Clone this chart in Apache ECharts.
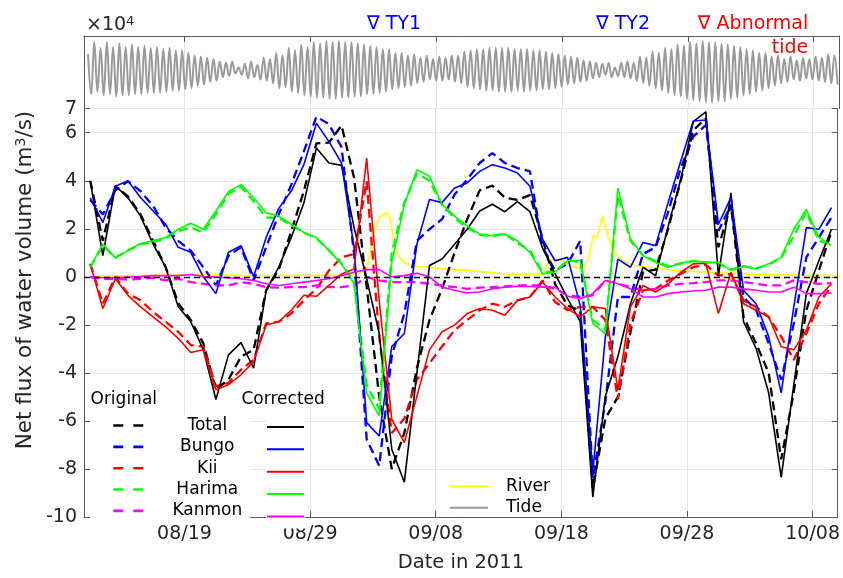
<!DOCTYPE html>
<html>
<head>
<meta charset="utf-8">
<script src="https://cdn.jsdelivr.net/npm/echarts@6/dist/echarts.min.js"></script>
<style>
  html, body { margin: 0; padding: 0; background: #fff; }
  #chart { width: 843px; height: 578px; }
</style>
</head>
<body>
<div id="chart"></div>
<script>
// Daily net volume flux through the straits, units of 1e4 m^3/s.
// Day 0 = 2011-08-11 00:00; one value per day, taken at noon.
const tickDays   = [8, 18, 28, 38, 48, 58];
const tickLabels = ['08/19', '08/29', '09/08', '09/18', '09/28', '10/08'];

const totalOriginal = [4.0, 1.5, 3.77, 3.35, 2.6, 1.5, 0.4, -1.1, -1.8, -2.77, -4.7, -4.28, -3.32, -3.04, -0.56,
  0.3, 1.9, 3.57, 5.56, 5.59, 6.3, 4.12, -0.4, -5.0, -8.0, -6.5, -3.8, -1.8, -0.5, 1.0,
  2.4, 3.6, 3.8, 3.3, 3.2, 3.4, 1.6, -0.3, -1.2, -1.4, -8.8, -5.9, -5.0, -2.3, 0.2,
  0.3, 2.0, 4.0, 6.1, 6.6, 1.23, 3.0, -1.67, -2.77, -4.0, -7.6, -4.8, -1.39, 0.26, 1.9];
const bungoOriginal = [3.2, 2.6, 3.6, 3.98, 3.57, 2.95, 2.05, 1.5, 1.09, 0.4, -0.36, 0.88, 1.23, -0.15, 1.23,
  2.6, 3.84, 5.22, 6.67, 6.35, 5.4, 0.95, -6.76, -7.87, -3.3, -1.53, 1.5, 1.98, 2.4, 3.43,
  4.05, 4.74, 5.15, 4.74, 4.53, 4.39, 1.23, 0.26, 0.54, 1.5, -8.4, -5.2, -0.84, -0.84, 0.95,
  1.23, 2.7, 4.53, 5.84, 6.32, 1.91, 3.0, -0.84, -1.39, -2.77, -4.29, -1.94, 0.81, 1.64, 2.47];
const kiiOriginal = [0.54, -1.12, 0.0, -0.7, -0.98, -1.46, -1.87, -2.29, -2.84, -2.91, -4.56, -4.42, -3.87, -3.46, -1.94,
  -1.87, -1.53, -0.98, -0.5, 0.26, 0.81, 0.95, 3.98, -2.5, -6.5, -5.9, -4.28, -3.6, -2.9, -2.22,
  -1.8, -1.39, -1.12, -1.25, -0.98, -0.84, -0.15, -1.05, -1.39, -1.25, -1.25, -1.8, -5.1, -1.94, -0.56,
  -0.5, -0.15, 0.12, 0.4, 0.5, 0.05, 0.12, -0.98, -1.25, -1.67, -2.49, -3.46, -2.36, -1.12, -0.36];
const harimaOriginal = [0.4, 1.3, 0.8, 1.1, 1.35, 1.45, 1.6, 1.9, 2.05, 1.85, 2.6, 3.45, 3.75, 3.15, 2.47,
  2.45, 2.15, 1.85, 1.6, 1.1, 0.55, -0.2, -4.5, -5.5, 1.0, 3.1, 4.3, 4.0, 3.0, 2.45,
  2.05, 1.75, 1.7, 1.8, 1.4, 1.1, 0.2, 0.2, 0.7, 0.6, -1.8, -2.2, 3.4, 1.5, 0.9,
  0.65, 0.45, 0.55, 0.65, 0.6, 0.55, 0.3, 0.45, 0.35, 0.5, 0.8, 1.7, 2.7, 1.5, 1.35];
const kanmonOriginal = [-0.01, -0.08, -0.08, -0.12, -0.08, -0.04, -0.15, -0.08, -0.22, -0.29, -0.36, -0.36, -0.22, -0.29, -0.43,
  -0.45, -0.43, -0.43, -0.36, -0.43, -0.43, -0.36, 0.0, -0.15, -0.22, -0.22, -0.22, -0.29, -0.36, -0.43,
  -0.5, -0.45, -0.43, -0.4, -0.36, -0.36, -0.36, -0.5, -0.77, -0.84, -0.77, -0.15, -0.29, -0.43, -0.56,
  -0.5, -0.36, -0.29, -0.26, -0.22, -0.15, -0.15, -0.22, -0.29, -0.36, -0.36, -0.15, -0.22, -0.29, -0.26];

const totalCorrected = [3.98, 0.88, 3.8, 3.29, 2.53, 1.36, 0.4, -1.25, -1.87, -3.04, -5.11, -3.25, -2.74, -3.8, -0.56,
  0.4, 1.64, 3.07, 5.36, 4.74, 4.64, 2.05, -0.08, -2.36, -7.18, -8.55, -4.0, 0.47, 0.74, 1.36,
  1.98, 2.74, 3.02, 2.71, 3.13, 2.71, 1.2, 0.12, -0.91, -1.87, -9.17, -4.97, -3.32, -1.12, 0.4,
  0.05, 2.1, 4.05, 6.46, 6.87, 0.05, 3.5, -1.87, -2.98, -4.83, -8.35, -4.5, -0.7, 0.67, 1.98];
const bungoCorrected = [3.29, 2.26, 3.77, 4.0, 3.3, 2.74, 2.19, 1.23, 1.02, 0.0, -0.7, 1.02, 1.3, 0.0, 1.64,
  2.85, 3.57, 4.67, 6.39, 5.63, 4.74, 1.2, -6.07, -6.63, -2.9, -2.36, 1.36, 3.22, 3.09, 3.7,
  3.91, 4.39, 4.67, 4.53, 4.32, 3.77, 1.57, 0.67, 0.81, -1.2, -8.14, -2.5, 0.74, 0.4, 1.43,
  1.3, 3.1, 4.81, 6.49, 6.53, 2.19, 3.3, -0.56, -1.12, -2.49, -4.83, -1.25, 2.05, 1.98, 2.88];
const kiiCorrected = [0.54, -1.32, -0.08, -0.77, -1.25, -1.67, -2.08, -2.56, -3.15, -3.04, -4.7, -4.49, -4.08, -3.53, -2.01,
  -1.87, -1.39, -0.77, -0.81, -0.36, 0.12, 0.33, 4.94, -1.0, -5.93, -6.9, -4.97, -3.04, -2.29, -2.01,
  -1.53, -1.32, -1.39, -1.6, -0.98, -0.84, -0.22, -0.84, -1.32, -1.67, -1.25, -1.32, -4.7, -1.25, -0.36,
  -0.63, -0.29, 0.19, 0.54, 0.57, -1.53, 0.19, -1.12, -1.39, -1.67, -2.91, -3.04, -2.22, -0.84, -0.29];
const harimaCorrected = [0.4, 1.36, 0.79, 1.09, 1.39, 1.5, 1.64, 1.98, 2.23, 1.98, 2.74, 3.54, 3.84, 3.29, 2.67,
  2.53, 2.19, 1.85, 1.64, 1.09, 0.54, -0.29, -4.83, -5.8, 0.6, 3.0, 4.46, 4.19, 3.02, 2.53,
  2.12, 1.78, 1.71, 1.78, 1.5, 1.02, 0.12, 0.19, 0.67, 0.67, -1.94, -2.36, 3.7, 1.57, 0.88,
  0.6, 0.4, 0.57, 0.67, 0.6, 0.6, 0.26, 0.44, 0.33, 0.54, 0.81, 1.98, 2.81, 1.64, 1.3];
const kanmonCorrected = [0.01, -0.04, -0.04, -0.01, 0.01, 0.05, 0.05, 0.05, 0.1, 0.01, -0.01, -0.04, -0.08, -0.15, -0.29,
  -0.36, -0.29, -0.22, -0.15, -0.08, 0.05, 0.19, 0.3, 0.3, 0.0, 0.05, 0.15, 0.0, -0.43, -0.56,
  -0.67, -0.63, -0.5, -0.43, -0.4, -0.4, -0.43, -0.43, -0.81, -0.91, -0.7, -0.15, -0.29, -0.5, -0.84,
  -0.84, -0.7, -0.63, -0.59, -0.56, -0.43, -0.43, -0.5, -0.56, -0.63, -0.63, -0.43, -0.7, -0.7, -0.67];

// River discharge, sampled more densely around the flood peaks.
const riverDays = [0.5, 2.5, 4.5, 6.5, 8.5, 9.5, 10.5, 12.5, 15.5, 19.5, 20.9, 21.9, 22.5, 23.1, 23.5, 24.06, 24.4, 24.7,
  25.1, 25.6, 26.5, 27.5, 28.5, 30.7, 32.3, 33.3, 36.0, 36.6, 37.0, 37.6, 38.4, 39.2, 39.7, 40.1, 40.54, 40.86,
  41.28, 41.6, 42.1, 42.9, 43.9, 45.5, 47.1, 49.7, 52.4, 55.0, 59.9];
const riverFlux = [0.03, 0.04, 0.05, 0.06, 0.1, 0.12, 0.08, 0.05, 0.05, 0.06, 0.06, 0.15, 0.33, 1.78, 2.47, 2.67, 2.4, 1.36,
  0.81, 0.56, 0.44, 0.4, 0.33, 0.26, 0.19, 0.12, 0.1, 0.12, 0.67, 0.74, 0.6, 0.4, 0.33, 0.67, 1.71, 1.64,
  2.53, 1.91, 1.09, 0.67, 0.47, 0.36, 0.26, 0.19, 0.12, 0.08, 0.05];

// Tidal flux extremes (high, low, high, low per day), 1e4 m^3/s about the mean.
const tideExtremes = [
  0.65, -1.0, 1.15, -0.9,   0.9, -1.05, 1.15, -1.0,   0.95, -1.1, 1.1, -1.05,   0.95, -1.05, 1.05, -1.0,
  0.95, -1.0, 1.0, -0.95,   0.9, -0.95, 0.95, -0.95,  0.85, -0.9, 0.9, -0.85,   0.8, -0.85, 0.8, -0.8,
  0.7, -0.75, 0.6, -0.65,   0.55, -0.6, 0.5, -0.5,    0.45, -0.45, 0.35, -0.3,  0.3, -0.25, 0.35, -0.15,
  0.1, -0.2, 0.25, -0.35,   0.35, -0.3, 0.2, -0.4,    0.5, -0.45, 0.45, -0.55,  0.7, -0.75, 0.6, -0.7,
  0.9, -0.9, 0.8, -0.95,    1.05, -1.05, 0.95, -1.1,  1.15, -1.15, 1.1, -1.15,  1.2, -1.2, 1.15, -1.2,
  1.2, -1.15, 1.15, -1.15,  1.15, -1.1, 1.1, -1.1,    1.05, -1.0, 1.0, -1.0,    0.95, -0.95, 0.85, -0.9,
  0.85, -0.8, 0.7, -0.75,   0.7, -0.7, 0.6, -0.65,    0.65, -0.55, 0.5, -0.5,   0.6, -0.4, 0.45, -0.45,
  0.55, -0.45, 0.5, -0.4,   0.6, -0.5, 0.6, -0.55,    0.75, -0.7, 0.8, -0.75,   0.85, -0.8, 0.85, -0.85,
  0.9, -0.85, 0.9, -0.9,    0.9, -0.9, 0.9, -0.9,     0.85, -0.85, 0.85, -0.9,  0.85, -0.85, 0.8, -0.85,
  0.8, -0.8, 0.75, -0.8,    0.7, -0.75, 0.65, -0.7,   0.6, -0.6, 0.55, -0.55,   0.5, -0.5, 0.4, -0.45,
  0.35, -0.35, 0.3, -0.3,   0.25, -0.2, 0.3, -0.3,    0.1, -0.25, 0.3, -0.3,    0.35, -0.35, 0.3, -0.45,
  0.55, -0.55, 0.5, -0.65,  0.75, -0.75, 0.7, -0.85,  0.9, -0.95, 0.85, -1.05,  1.05, -1.1, 1.0, -1.2,
  1.15, -1.25, 1.1, -1.3,   1.2, -1.35, 1.15, -1.35,  1.15, -1.3, 1.1, -1.3,    1.05, -1.2, 1.0, -1.15,
  0.95, -1.05, 0.85, -1.0,  0.8, -0.9, 0.7, -0.85,    0.7, -0.75, 0.55, -0.65,  0.6, -0.55, 0.45, -0.5,
  0.55, -0.4, 0.4, -0.45,   0.5, -0.35, 0.45, -0.4,   0.55, -0.45, 0.5, -0.5,   0.65, -0.55, 0.6, -0.6
];
const tideFirstDay = 0.32;      // time of the first high water
const tideHalfPeriod = 0.2493;  // days between successive extremes

// Events marked above the tide panel
const eventDays   = [23.0, 41.2, 49.3];
const eventLabels = ['TY1', 'TY2', 'Abnormal'];
const eventColors = ['#0000ff', '#0000ff', '#ff0000'];

const FONT = 'DejaVu Sans';
const AXIS_COLOR = '#5a5a5a';
const GRID_COLOR = '#e4e4e4';
const TEXT_COLOR = '#262626';

const dailyDays = totalOriginal.map((_, i) => i + 0.5);
const pairs = (xs, ys) => ys.map((v, i) => [xs[i], v]);
const tideDays = tideExtremes.map((_, j) => tideFirstDay + j * tideHalfPeriod);

const chart = echarts.init(document.getElementById('chart'), null, { renderer: 'canvas' });

function dashedSeries(name, values, color) {
  return {
    name, type: 'line', xAxisIndex: 0, yAxisIndex: 0,
    data: pairs(dailyDays, values), symbol: 'none', silent: true,
    lineStyle: { color, width: 2.3, type: [9, 5] }, itemStyle: { color }
  };
}
function solidSeries(name, values, color) {
  return {
    name, type: 'line', xAxisIndex: 0, yAxisIndex: 0,
    data: pairs(dailyDays, values), symbol: 'none', silent: true,
    lineStyle: { color, width: 1.6 }, itemStyle: { color }
  };
}

const tickLabelFor = v => {
  const k = tickDays.indexOf(v);
  return k >= 0 ? tickLabels[k] : '';
};

// Legend keys show only the line sample
const hiddenMarker = { opacity: 0 };

const option = {
  animation: false,
  backgroundColor: '#fff',
  textStyle: { fontFamily: FONT },
  grid: [
    { left: 84, right: 4.2, top: 108.7, bottom: 58 },
    { left: 84, right: 4.2, top: 36, height: 72.7 }
  ],
  xAxis: [
    {
      type: 'value', gridIndex: 0, min: 0, max: 60, position: 'bottom',
      axisLine: { show: true, onZero: false, lineStyle: { color: AXIS_COLOR, width: 1 } },
      axisTick: { show: true, inside: true, length: 6, customValues: tickDays, lineStyle: { color: AXIS_COLOR } },
      axisLabel: { customValues: tickDays, formatter: tickLabelFor, fontSize: 19, color: TEXT_COLOR, margin: 8, fontFamily: FONT },
      splitLine: { show: true, lineStyle: { color: GRID_COLOR, width: 1 } },
      name: 'Date in 2011', nameLocation: 'middle', nameGap: 36,
      nameTextStyle: { fontSize: 19.5, color: TEXT_COLOR, fontFamily: FONT }
    },
    {
      type: 'value', gridIndex: 1, min: 0, max: 60, position: 'top',
      axisLine: { show: true, onZero: false, lineStyle: { color: AXIS_COLOR, width: 1 } },
      axisTick: { show: true, inside: true, length: 6, customValues: tickDays, lineStyle: { color: AXIS_COLOR } },
      axisLabel: { show: false, customValues: tickDays },
      splitLine: { show: true, lineStyle: { color: GRID_COLOR, width: 1 } }
    }
  ],
  yAxis: [
    {
      type: 'value', gridIndex: 0, min: -10, max: 7, interval: 2, position: 'left',
      axisLine: { show: true, onZero: false, lineStyle: { color: AXIS_COLOR, width: 1 } },
      axisTick: { show: true, inside: true, length: 6, lineStyle: { color: AXIS_COLOR } },
      axisLabel: { fontSize: 19, color: TEXT_COLOR, margin: 7, fontFamily: FONT, showMaxLabel: true, showMinLabel: true },
      splitLine: { show: true, lineStyle: { color: GRID_COLOR, width: 1 } }
    },
    {
      type: 'value', gridIndex: 0, min: -10, max: 7, interval: 2, position: 'right',
      axisLine: { show: true, onZero: false, lineStyle: { color: AXIS_COLOR, width: 1 } },
      axisTick: { show: true, inside: true, length: 6, lineStyle: { color: AXIS_COLOR } },
      axisLabel: { show: false },
      splitLine: { show: false }
    },
    {
      type: 'value', gridIndex: 1, min: -1.6, max: 1.4, position: 'left',
      axisLine: { show: true, onZero: false, lineStyle: { color: AXIS_COLOR, width: 1 } },
      axisTick: { show: false }, axisLabel: { show: false }, splitLine: { show: false }
    },
    {
      type: 'value', gridIndex: 1, min: -1.6, max: 1.4, position: 'right',
      axisLine: { show: true, onZero: false, lineStyle: { color: AXIS_COLOR, width: 1 } },
      axisTick: { show: false }, axisLabel: { show: false }, splitLine: { show: false }
    }
  ],
  legend: [
    {
      data: ['Total', 'Bungo', 'Kii', 'Harima', 'Kanmon'],
      orient: 'vertical', left: 90, top: 415, padding: [2, 8, 4, 22],
      backgroundColor: '#fff',
      itemWidth: 30, itemHeight: 20, itemGap: 4.35, selectedMode: false,
      itemStyle: hiddenMarker,
      lineStyle: { type: [10, 10], width: 2.6 },
      formatter: n => '{c|' + n + '}',
      textStyle: { fontSize: 17, color: '#000', fontFamily: FONT,
        rich: { c: { width: 118, align: 'center', fontSize: 17, fontFamily: FONT, color: '#000' } } }
    },
    {
      data: ['Total corrected', 'Bungo corrected', 'Kii corrected', 'Harima corrected', 'Kanmon corrected'],
      orient: 'vertical', left: 266, top: 415, padding: [2, 0, 4, 0],
      backgroundColor: '#fff',
      itemWidth: 37, itemHeight: 20, itemGap: 4.35, selectedMode: false,
      itemStyle: hiddenMarker,
      formatter: () => '',
      textStyle: { fontSize: 17 }
    },
    {
      data: ['River', 'Tide'],
      orient: 'vertical', left: 449, top: 478, padding: 0,
      itemWidth: 38, itemHeight: 20, itemGap: 4.35, selectedMode: false,
      itemStyle: hiddenMarker,
      formatter: n => '{t|' + n + '}',
      textStyle: { fontSize: 17, color: '#000', fontFamily: FONT,
        rich: { t: { padding: [0, 0, 0, 13], fontSize: 17, fontFamily: FONT, color: '#000' } } }
    }
  ],
  series: [
    {
      name: 'Tide', type: 'line', xAxisIndex: 1, yAxisIndex: 2,
      data: pairs(tideDays, tideExtremes), symbol: 'none', smooth: 0.4, silent: true,
      lineStyle: { color: '#9a9a9a', width: 2 }, itemStyle: { color: '#9a9a9a' }
    },
    {
      name: 'River', type: 'line', xAxisIndex: 0, yAxisIndex: 0,
      data: pairs(riverDays, riverFlux), symbol: 'none', silent: true,
      lineStyle: { color: '#ffff00', width: 1.6 }, itemStyle: { color: '#ffff00' },
      markLine: {
        silent: true, symbol: 'none', label: { show: false },
        lineStyle: { color: '#000', type: [6, 4], width: 1.3 },
        data: [{ yAxis: 0 }]
      }
    },
    dashedSeries('Total', totalOriginal, '#000000'),
    dashedSeries('Bungo', bungoOriginal, '#0000ff'),
    dashedSeries('Kii', kiiOriginal, '#ff0000'),
    dashedSeries('Harima', harimaOriginal, '#00ff00'),
    dashedSeries('Kanmon', kanmonOriginal, '#ff00ff'),
    solidSeries('Total corrected', totalCorrected, '#000000'),
    solidSeries('Bungo corrected', bungoCorrected, '#0000ff'),
    solidSeries('Kii corrected', kiiCorrected, '#ff0000'),
    solidSeries('Harima corrected', harimaCorrected, '#00ff00'),
    solidSeries('Kanmon corrected', kanmonCorrected, '#ff00ff')
  ]
};

chart.setOption(option);

// Text annotations placed from axis coordinates
const measure = (() => {
  const ctx = document.createElement('canvas').getContext('2d');
  return (txt, size) => { ctx.font = size + 'px "' + FONT + '"'; return ctx.measureText(txt).width; };
})();
const nablaHalf = measure('\u2207', 19) / 2;

const graphics = [
  {
    type: 'text', x: 25, y: 280, rotation: Math.PI / 2, silent: true,
    style: {
      text: 'Net flux of water volume (m{sup|3}/s)',
      font: '21.5px "' + FONT + '"', fill: TEXT_COLOR, align: 'center', verticalAlign: 'middle',
      rich: {
        sup: { fontSize: 14, fontFamily: FONT, fill: TEXT_COLOR, verticalAlign: 'top', lineHeight: 14 }
      }
    }
  },
  {
    type: 'text', x: 86, y: 25, silent: true,
    style: {
      text: '\u00d710{sup|4}', font: '19px "' + FONT + '"', fill: TEXT_COLOR,
      align: 'left', verticalAlign: 'middle',
      rich: { sup: { fontSize: 13, fontFamily: FONT, fill: TEXT_COLOR, verticalAlign: 'top', lineHeight: 12 } }
    }
  },
  {
    type: 'text', x: 90.5, y: 400, silent: true,
    style: { text: 'Original', font: '17px "' + FONT + '"', fill: '#000', align: 'left', verticalAlign: 'middle' }
  },
  {
    type: 'text', x: 241.5, y: 400, silent: true,
    style: { text: 'Corrected', font: '17px "' + FONT + '"', fill: '#000', align: 'left', verticalAlign: 'middle' }
  }
];

eventDays.forEach((d, k) => {
  const px = chart.convertToPixel({ xAxisIndex: 1 }, d);
  const left = px - nablaHalf;
  const line1 = '\u2207 ' + eventLabels[k];
  graphics.push({
    type: 'text', x: left, y: 24, silent: true,
    style: { text: line1, font: '19px "' + FONT + '"', fill: eventColors[k], align: 'left', verticalAlign: 'middle' }
  });
  if (eventLabels[k] === 'Abnormal') {
    graphics.push({
      type: 'text', x: left + measure(line1, 19), y: 48, silent: true,
      style: { text: 'tide', font: '19px "' + FONT + '"', fill: eventColors[k], align: 'right', verticalAlign: 'middle' }
    });
  }
});

chart.setOption({ graphic: graphics });
</script>
</body>
</html>
